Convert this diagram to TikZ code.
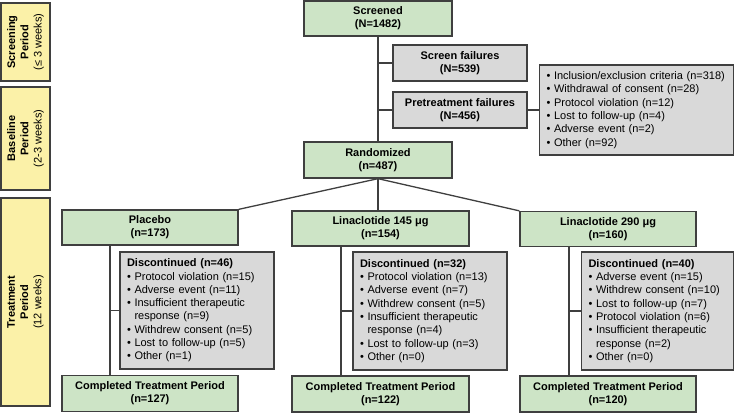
\documentclass[tikz,border=0pt]{standalone}
\usepackage{fontspec}
\setmainfont{Liberation Sans}
\definecolor{gfill}{HTML}{CDE4C6}
\definecolor{yfill}{HTML}{FBF1A8}
\definecolor{grfill}{HTML}{D9D9D9}
\definecolor{bord}{HTML}{3F3F3F}
\newcommand\myfs{\fontsize{11}{13.3}\selectfont}
\newcommand\bl{\textbullet\ }
\newcommand\bs{\phantom{\textbullet\ }}
\begin{document}
\begin{tikzpicture}[x=1pt,y=-1pt,
  box/.style={draw=bord, line width=1.3pt, inner sep=0pt, font=\myfs},
  greenbox/.style={box, fill=gfill, align=center, font=\myfs\bfseries, minimum width=176pt, minimum height=35pt},
  graybox/.style={box, fill=grfill, align=center, font=\myfs\bfseries, minimum width=134pt, minimum height=36pt},
  listbox/.style={box, fill=grfill, align=left, inner xsep=7pt},
  sidebox/.style={box, fill=yfill, align=center, rotate=90, minimum height=49pt},
  conn/.style={draw=bord, line width=1.3pt}
]
\useasboundingbox (0,0) rectangle (734,415);

% period labels
\node[sidebox, minimum width=78pt] (p1) at (25.5,42) {\textbf{Screening}\\\textbf{Period}\\(≤ 3 weeks)};
\node[sidebox, minimum width=103pt] (p2) at (25.5,138.5) {\textbf{Baseline}\\\textbf{Period}\\(2-3 weeks)};
\node[sidebox, minimum width=208pt] (p3) at (25.5,302) {\textbf{Treatment}\\\textbf{Period}\\(12 weeks)};

% top part
\node[greenbox, minimum width=148pt] (scr) at (378,18.5) {Screened\\(N=1482)};
\node[graybox] (sf) at (460,63) {Screen failures\\(N=539)};
\node[graybox] (pf) at (460,110) {Pretreatment failures\\(N=456)};
\node[listbox, text width=180pt, minimum height=90pt] (rs) at (636.5,110) {\bl Inclusion/exclusion criteria (n=318)\\
\bl Withdrawal of consent (n=28)\\
\bl Protocol violation (n=12)\\
\bl Lost to follow-up (n=4)\\
\bl Adverse event (n=2)\\
\bl Other (n=92)};
\node[greenbox, minimum width=148pt, minimum height=36pt] (rnd) at (378,160) {Randomized\\(n=487)};

% arms
\node[greenbox] (a1) at (150,227.5) {Placebo\\(n=173)};
\node[greenbox, minimum width=177pt] (a2) at (380.5,228.5) {Linaclotide 145 μg\\(n=154)};
\node[greenbox] (a3) at (608,229) {Linaclotide 290 μg\\(n=160)};

\node[listbox, text width=140pt, minimum height=117pt] (d1) at (197,310.5) {\textbf{Discontinued (n=46)}\\
\bl Protocol violation (n=15)\\
\bl Adverse event (n=11)\\
\bl Insufficient therapeutic\\
\bs response (n=9)\\
\bl Withdrew consent (n=5)\\
\bl Lost to follow-up (n=5)\\
\bl Other (n=1)};
\node[listbox, text width=140pt, minimum height=118pt] (d2) at (430,311) {\textbf{Discontinued (n=32)}\\
\bl Protocol violation (n=13)\\
\bl Adverse event (n=7)\\
\bl Withdrew consent (n=5)\\
\bl Insufficient therapeutic\\
\bs response (n=4)\\
\bl Lost to follow-up (n=3)\\
\bl Other (n=0)};
\node[listbox, text width=138pt, minimum height=118pt] (d3) at (657.5,311) {\textbf{Discontinued (n=40)}\\
\bl Adverse event (n=15)\\
\bl Withdrew consent (n=10)\\
\bl Lost to follow-up (n=7)\\
\bl Protocol violation (n=6)\\
\bl Insufficient therapeutic\\
\bs response (n=2)\\
\bl Other (n=0)};

\node[greenbox, minimum height=36pt] (c1) at (150,393.5) {Completed Treatment Period\\(n=127)};
\node[greenbox, minimum width=177pt, minimum height=36pt] (c2) at (380.5,394) {Completed Treatment Period\\(n=122)};
\node[greenbox, minimum height=36pt] (c3) at (608,394) {Completed Treatment Period\\(n=120)};

% connectors
\draw[conn] (scr.south) -- (rnd.north);
\draw[conn] (scr.south |- sf.west) -- (sf.west);
\draw[conn] (scr.south |- pf.west) -- (pf.west);
\draw[conn] (pf.east) -- (rs.west |- pf.east);
\draw[conn] (rnd.south) -- (a1.north east);
\draw[conn] (rnd.south) -- (rnd.south |- a2.north);
\draw[conn] (rnd.south) -- (a3.north west);

\coordinate (v1) at ([xshift=-40pt]a1.south);
\coordinate (v2) at ([xshift=-39.5pt]a2.south);
\coordinate (v3) at ([xshift=-39pt]a3.south);
\draw[conn] (v1) -- (v1 |- c1.north);
\draw[conn] (v2) -- (v2 |- c2.north);
\draw[conn] (v3) -- (v3 |- c3.north);
\draw[conn] (v1 |- d1.west) -- (d1.west);
\draw[conn] (v2 |- d2.west) -- (d2.west);
\draw[conn] (v3 |- d3.west) -- (d3.west);
\end{tikzpicture}
\end{document}
